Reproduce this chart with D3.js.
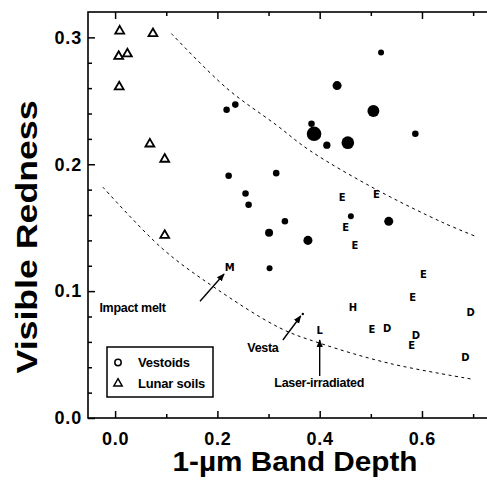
<!DOCTYPE html>
<html>
<head>
<meta charset="utf-8">
<script src="https://cdn.jsdelivr.net/npm/d3@7"></script>
<style>
  body { margin: 0; background: #fff; }
  text { font-family: "Liberation Sans", Arial, sans-serif; font-weight: bold; fill: #000; }
</style>
</head>
<body>
<svg id="chart" width="487" height="481"></svg>
<script>
  // Vestoids (filled circles), size is a relative value
  var vestoidX = [0.218, 0.235, 0.222, 0.315, 0.255, 0.261, 0.301, 0.302, 0.332, 0.377,
                  0.384, 0.389, 0.414, 0.455, 0.434, 0.505, 0.520, 0.587, 0.461, 0.535];
  var vestoidY = [0.243, 0.247, 0.191, 0.193, 0.177, 0.168, 0.146, 0.118, 0.155, 0.140,
                  0.232, 0.224, 0.215, 0.217, 0.262, 0.242, 0.288, 0.224, 0.159, 0.155];
  var vestoidSize = [1.2, 1.2, 1.2, 1.2, 1.2, 1.2, 1.8, 1.0, 1.2, 2.3,
                     1.2, 6.0, 1.5, 4.5, 2.3, 4.0, 1.0, 1.2, 1.0, 2.3];

  // Lunar soils (open triangles)
  var lunarX = [0.009, 0.074, 0.007, 0.024, 0.008, 0.068, 0.097, 0.097];
  var lunarY = [0.305, 0.303, 0.285, 0.287, 0.261, 0.216, 0.204, 0.144];

  // Lettered samples
  var letterLabels = ['M', 'E', 'E', 'E', 'E', 'E', 'E', 'H', 'D', 'E', 'D', 'L', 'D', 'E', 'D'];
  var letterX = [0.224, 0.444, 0.511, 0.451, 0.469, 0.603, 0.582, 0.465, 0.695, 0.502, 0.532, 0.400, 0.588, 0.580, 0.685];
  var letterY = [0.119, 0.174, 0.176, 0.150, 0.136, 0.113, 0.095, 0.087, 0.083, 0.070, 0.071, 0.069, 0.065, 0.057, 0.048];

  // Vesta
  var vestaX = [0.367];
  var vestaY = [0.082];

  // Dashed boundary curves
  var upperCurveX = [0.110, 0.218, 0.315, 0.380, 0.511, 0.641, 0.706];
  var upperCurveY = [0.303, 0.260, 0.231, 0.211, 0.180, 0.154, 0.143];
  var lowerCurveX = [-0.024, 0.091, 0.192, 0.322, 0.400, 0.537, 0.700];
  var lowerCurveY = [0.182, 0.134, 0.1035, 0.071, 0.059, 0.043, 0.0305];

  // Annotations: label, label x, label y, arrow from (x1,y1) to (x2,y2)
  var noteLabels = ['Impact melt', 'Vesta', 'Laser-irradiated'];
  var noteX = [0.034, 0.289, 0.399];
  var noteY = [0.0835, 0.052, 0.0244];
  var arrowX1 = [0.166, 0.328, 0.400];
  var arrowY1 = [0.092, 0.0615, 0.0331];
  var arrowX2 = [0.213, 0.363, 0.400];
  var arrowY2 = [0.1135, 0.0804, 0.0615];

  var xMajor = [0, 0.2, 0.4, 0.6];
  var xMinor = [0.1, 0.3, 0.5, 0.7];
  var yMajor = [0, 0.1, 0.2, 0.3];
  var yMinor = [0.02, 0.04, 0.06, 0.08, 0.12, 0.14, 0.16, 0.18, 0.22, 0.24, 0.26, 0.28];

  var legendLabels = ['Vestoids', 'Lunar soils'];

  var plotLeft = 88, plotRight = 490, plotTop = 12, plotBottom = 418;

  var svg = d3.select('#chart');

  var x = d3.scaleLinear().domain([-0.053, 0.733]).range([plotLeft, plotRight]);
  var y = d3.scaleLinear().domain([0, 0.32]).range([plotBottom, plotTop]);
  var r = d3.scaleSqrt().domain([0, 6]).range([0, 7.3]);

  var fmt = d3.format('.1f');

  // axes, ticks pointing inward
  function addAxis(axis, tx, ty, labels) {
    var g = svg.append('g')
      .attr('transform', 'translate(' + tx + ',' + ty + ')')
      .call(axis);
    g.select('.domain').remove();
    g.selectAll('line').attr('stroke', '#000').attr('stroke-width', 1.5);
    if (labels) {
      g.selectAll('text')
        .style('font-size', '18px')
        .style('letter-spacing', '0.8px')
        .attr('fill', '#000');
    } else {
      g.selectAll('text').remove();
    }
    return g;
  }

  addAxis(d3.axisBottom(x).tickValues(xMajor).tickSize(-7).tickPadding(14).tickFormat(fmt), 0, plotBottom, true);
  addAxis(d3.axisBottom(x).tickValues(xMinor).tickSize(-4), 0, plotBottom, false);
  addAxis(d3.axisTop(x).tickValues(xMajor).tickSize(-7), 0, plotTop, false);
  addAxis(d3.axisTop(x).tickValues(xMinor).tickSize(-4), 0, plotTop, false);
  addAxis(d3.axisLeft(y).tickValues(yMajor).tickSize(-7).tickPadding(6).tickFormat(fmt), plotLeft, 0, true);
  addAxis(d3.axisLeft(y).tickValues(yMinor).tickSize(-4), plotLeft, 0, false);

  svg.append('rect')
    .attr('x', plotLeft).attr('y', plotTop)
    .attr('width', plotRight - plotLeft).attr('height', plotBottom - plotTop)
    .attr('fill', 'none').attr('stroke', '#000').attr('stroke-width', 1.6);

  // axis titles
  svg.append('text')
    .attr('x', 295).attr('y', 471)
    .attr('text-anchor', 'middle')
    .attr('textLength', 245).attr('lengthAdjust', 'spacingAndGlyphs')
    .style('font-size', '28px')
    .text('1-\u00b5m Band Depth');

  svg.append('text')
    .attr('transform', 'translate(37,237) rotate(-90)')
    .attr('text-anchor', 'middle')
    .attr('textLength', 273).attr('lengthAdjust', 'spacingAndGlyphs')
    .style('font-size', '30px')
    .text('Visible Redness');

  // dashed curves
  var line = d3.line()
    .x(function(d) { return x(d[0]); })
    .y(function(d) { return y(d[1]); })
    .curve(d3.curveCatmullRom);

  [[upperCurveX, upperCurveY], [lowerCurveX, lowerCurveY]].forEach(function(c) {
    svg.append('path')
      .datum(d3.zip(c[0], c[1]))
      .attr('d', line)
      .attr('fill', 'none')
      .attr('stroke', '#000')
      .attr('stroke-width', 1)
      .attr('stroke-dasharray', '3,3.5');
  });

  // vestoids
  svg.append('g').selectAll('circle')
    .data(d3.zip(vestoidX, vestoidY, vestoidSize))
    .enter().append('circle')
    .attr('cx', function(d) { return x(d[0]); })
    .attr('cy', function(d) { return y(d[1]); })
    .attr('r', function(d) { return r(d[2]); })
    .attr('fill', '#000');

  // lunar soils
  var tri = d3.symbol().type(d3.symbolTriangle).size(34);
  svg.append('g').selectAll('path')
    .data(d3.zip(lunarX, lunarY))
    .enter().append('path')
    .attr('d', tri)
    .attr('transform', function(d) { return 'translate(' + x(d[0]) + ',' + y(d[1]) + ')'; })
    .attr('fill', 'none')
    .attr('stroke', '#000')
    .attr('stroke-width', 1.8);

  // lettered samples
  svg.append('g').selectAll('text')
    .data(d3.zip(letterLabels, letterX, letterY))
    .enter().append('text')
    .attr('x', function(d) { return x(d[1]); })
    .attr('y', function(d) { return y(d[2]); })
    .attr('dy', '0.36em')
    .attr('text-anchor', 'middle')
    .style('font-size', '10px')
    .style('font-family', '"DejaVu Sans", sans-serif')
    .text(function(d) { return d[0]; });

  // Vesta point
  svg.append('g').selectAll('circle')
    .data(d3.zip(vestaX, vestaY))
    .enter().append('circle')
    .attr('cx', function(d) { return x(d[0]); })
    .attr('cy', function(d) { return y(d[1]); })
    .attr('r', 1.2)
    .attr('fill', '#000');

  // arrows and notes
  svg.append('defs').append('marker')
    .attr('id', 'head')
    .attr('viewBox', '0 0 10 10')
    .attr('refX', 9).attr('refY', 5)
    .attr('markerWidth', 8).attr('markerHeight', 8)
    .attr('markerUnits', 'userSpaceOnUse')
    .attr('orient', 'auto')
    .append('path')
    .attr('d', 'M0,1 L10,5 L0,9 Z')
    .attr('fill', '#000');

  noteLabels.forEach(function(label, i) {
    svg.append('line')
      .attr('x1', x(arrowX1[i])).attr('y1', y(arrowY1[i]))
      .attr('x2', x(arrowX2[i])).attr('y2', y(arrowY2[i]))
      .attr('stroke', '#000')
      .attr('stroke-width', 1.4)
      .attr('marker-end', 'url(#head)');

    svg.append('text')
      .attr('x', x(noteX[i])).attr('y', y(noteY[i]))
      .attr('text-anchor', 'middle')
      .style('font-size', '12.5px')
      .style('letter-spacing', '-0.3px')
      .text(label);
  });

  // legend
  var legend = svg.append('g').attr('transform', 'translate(107,347)');
  legend.append('rect')
    .attr('width', 106).attr('height', 50)
    .attr('fill', '#fff').attr('stroke', '#000').attr('stroke-width', 1.5);
  legend.append('circle')
    .attr('cx', 11).attr('cy', 15.5).attr('r', 3.2)
    .attr('fill', 'none').attr('stroke', '#000').attr('stroke-width', 1.5);
  legend.append('path')
    .attr('d', d3.symbol().type(d3.symbolTriangle).size(30))
    .attr('transform', 'translate(11,36.5)')
    .attr('fill', 'none').attr('stroke', '#000').attr('stroke-width', 1.5);
  legend.selectAll('text.lab')
    .data(legendLabels)
    .enter().append('text')
    .attr('class', 'lab')
    .attr('x', 31)
    .attr('y', function(d, i) { return 20 + i * 21; })
    .style('font-size', '13px')
    .style('letter-spacing', '-0.2px')
    .text(function(d) { return d; });
</script>
</body>
</html>
